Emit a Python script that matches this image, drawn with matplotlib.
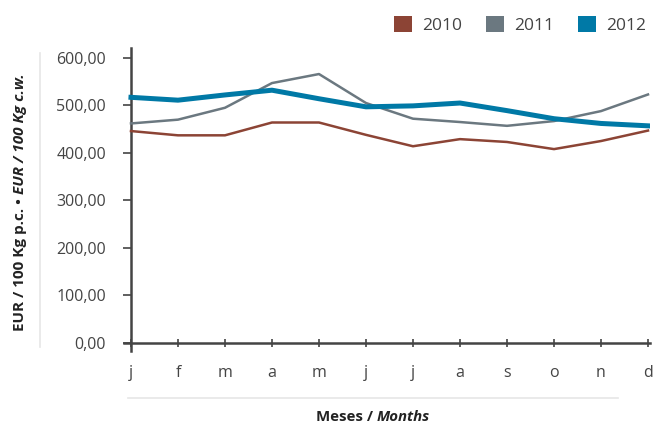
import matplotlib.pyplot as plt
from matplotlib.patches import Patch
from matplotlib.lines import Line2D

months = ["j", "f", "m", "a", "m", "j", "j", "a", "s", "o", "n", "d"]
y2010 = [446, 437, 437, 464, 464, 438, 414, 429, 423, 408, 425, 447]
y2011 = [462, 470, 495, 547, 566, 505, 472, 465, 457, 467, 488, 523]
y2012 = [517, 511, 522, 532, 514, 497, 499, 505, 489, 472, 462, 457]
years = ["2010", "2011", "2012"]
colors = ["#8C4435", "#6B7880", "#0079A6"]
yticks = [0, 100, 200, 300, 400, 500, 600]

plt.rcParams["font.family"] = ["Open Sans", "DejaVu Sans"]
txt = "#444444"

fig = plt.figure(figsize=(6.55, 4.24), dpi=100)
ax = fig.add_axes([0.1892, 0.171, 0.8037, 0.716])

x = range(len(months))
ax.plot(x, y2010, color=colors[0], lw=1.8, zorder=3)
ax.plot(x, y2011, color=colors[1], lw=1.8, zorder=3)
ax.plot(x, y2012, color=colors[2], lw=3.6, zorder=4)

ax.set_xlim(-0.15, 11.05)
ax.set_ylim(-18, 621)
ax.spines["left"].set_position(("data", 0))
ax.spines["bottom"].set_position(("data", 0))
ax.spines["right"].set_visible(False)
ax.spines["top"].set_visible(False)
for s in ("left", "bottom"):
    ax.spines[s].set_color("#444444")
    ax.spines[s].set_linewidth(1.8)

ax.set_yticks(yticks)
ax.set_yticklabels([f"{v},00" for v in yticks])
ax.set_xticks(list(x))
ax.set_xticklabels(months)
ax.tick_params(axis="y", direction="out", length=6, width=1.2, color="#444444",
               labelsize=11.5, labelcolor=txt, pad=12)
ax.tick_params(axis="x", direction="inout", length=6, width=1.2, color="#444444",
               labelsize=11.5, labelcolor=txt, pad=13)

# decorative guide lines
fig.add_artist(Line2D([40 / 655, 40 / 655], [1 - 347 / 424, 1 - 53 / 424],
                      color="#e6e6e6", lw=1.2))
fig.add_artist(Line2D([128 / 655, 618 / 655], [1 - 398 / 424, 1 - 398 / 424],
                      color="#e6e6e6", lw=1.2))

# x label
fig.canvas.draw()
r = fig.canvas.get_renderer()
t1 = fig.text(0, 1 - 417 / 424, "Meses / ", fontsize=10.8, fontweight="bold",
              color="#222222", va="center", ha="left")
t2 = fig.text(0, 1 - 417 / 424, "Months", fontsize=10.8, fontweight="bold",
              style="italic", color="#222222", va="center", ha="left")
w1 = t1.get_window_extent(r).width
w2 = t2.get_window_extent(r).width
x0 = 373 - (w1 + w2) / 2
t1.set_x(x0 / 655)
t2.set_x((x0 + w1) / 655)

# y label
a1 = fig.text(20 / 655, 0, "EUR / 100 Kg p.c. • ", fontsize=11, fontweight="bold",
              color="#222222", rotation=90, ha="center", va="bottom")
a2 = fig.text(20 / 655, 0, "EUR / 100 Kg c.w.", fontsize=11, fontweight="bold",
              style="italic", color="#222222", rotation=90, ha="center", va="bottom")
h1 = a1.get_window_extent(r).height
h2 = a2.get_window_extent(r).height
yb = (424 - 202) - (h1 + h2) / 2
a1.set_y(yb / 424)
a2.set_y((yb + h1) / 424)

handles = [Patch(facecolor=c, edgecolor="none") for c in colors]
fig.legend(handles, years, loc="center right", bbox_to_anchor=(1.005, 1 - 25 / 424), ncol=3,
           frameon=False, fontsize=12.5, handlelength=1.0, handleheight=1.0,
           handletextpad=0.6, columnspacing=1.4, labelcolor=txt, borderpad=0.2)

fig.savefig("out.png", dpi=100)
